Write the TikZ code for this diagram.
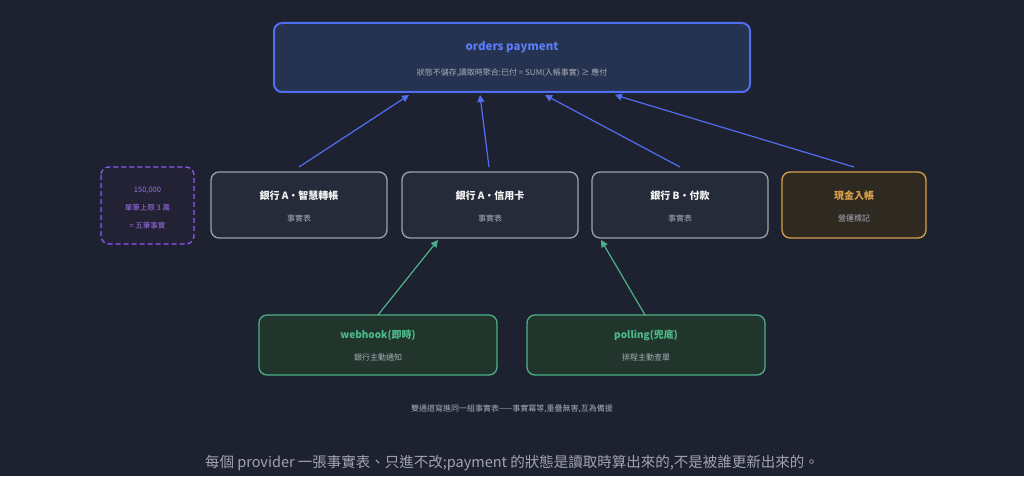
\documentclass[tikz,border=0pt]{standalone}
\usepackage{fontspec}
\setmainfont{Noto Sans CJK TC}
\usetikzlibrary{arrows.meta}
\definecolor{bg}{HTML}{1E2130}
\definecolor{bl}{HTML}{4F6EF0}
\definecolor{blt}{HTML}{5B7CF5}
\definecolor{blf}{HTML}{263350}
\definecolor{gr}{HTML}{4CB088}
\definecolor{grt}{HTML}{4CBB8A}
\definecolor{grf}{HTML}{22352C}
\definecolor{or}{HTML}{D9A04A}
\definecolor{orf}{HTML}{2E2A22}
\definecolor{pu}{HTML}{8B5CF6}
\definecolor{put}{HTML}{9A6EE8}
\definecolor{puf}{HTML}{232235}
\definecolor{gs}{HTML}{9CA3AF}
\definecolor{gf}{HTML}{262B3A}
\definecolor{sub}{HTML}{A8ADB8}
\definecolor{bot}{HTML}{A0A4AE}
\begin{document}
\begin{tikzpicture}[x=1pt,y=-1pt,
 box/.style={rounded corners=8pt,line width=1.3pt},
 ttl/.style={font=\fontsize{10}{12}\selectfont\bfseries},
 st/.style={font=\fontsize{8}{10}\selectfont,text=sub},
 pt/.style={font=\fontsize{7.5}{9}\selectfont,text=put},
 barr/.style={draw=bl,line width=1.2pt,-{Triangle[length=7pt,width=7pt]}},
 garr/.style={draw=gr,line width=1.2pt,-{Triangle[length=7pt,width=7pt]}}]
\fill[bg] (0,0) rectangle (1024,476);
\useasboundingbox (0,0) rectangle (1024,476);
\draw[box,draw=bl,line width=2pt,fill=blf] (274,23) rectangle (750,92);
\node[text=blt,font=\fontsize{11.5}{13}\selectfont\bfseries] (op) at (512,47) {orders payment};
\node[st] (ops) at (512,73) {狀態不儲存,讀取時聚合:已付 = SUM(入帳事實) ≥ 應付};
\foreach \n/\a/\t in {b1/211/銀行 A・智慧轉帳, b2/402/銀行 A・信用卡, b3/592/銀行 B・付款}{
 \draw[box,draw=gs,fill=gf] (\a,172) rectangle ++(176,66);
 \node[ttl,text=white!92!gray] (\n) at (\a+88,196) {\t};
 \node[st] at (\a+88,218) {事實表};
}
\draw[box,draw=or,fill=orf] (782,172) rectangle (926,238);
\node[ttl,text=or] (cash) at (854,196) {現金入帳};
\node[st] at (854,218) {營運標記};
\draw[box,draw=pu,dash pattern=on 5pt off 3pt,fill=puf] (101,167) rectangle (194,244);
\node[pt] (note) at (147.5,190) {150,000};
\node[pt] at (147.5,208) {單筆上限 3 萬};
\node[pt] at (147.5,226) {= 五筆事實};
\draw[box,draw=gr,fill=grf] (259,315) rectangle (497,375);
\node[ttl,text=grt] (wh) at (378,335) {webhook(即時)};
\node[st] at (378,357) {銀行主動通知};
\draw[box,draw=gr,fill=grf] (527,315) rectangle (765,375);
\node[ttl,text=grt] (pl) at (646,335) {polling(兜底)};
\node[st] at (646,357) {排程主動查單};
\coordinate (a1) at (299,167); \coordinate (t1) at (409,95);
\coordinate (a2) at (489,167); \coordinate (t2) at (480,95);
\coordinate (a3) at (680,167); \coordinate (t3) at (545,95);
\coordinate (a4) at (854,167); \coordinate (t4) at (615,95);
\foreach \i in {1,...,4}{\draw[barr] (a\i) -- (t\i);}
\coordinate (g1) at (378,315); \coordinate (h1) at (438,240);
\coordinate (g2) at (645,315); \coordinate (h2) at (601,240);
\draw[garr] (g1) -- (h1);
\draw[garr] (g2) -- (h2);
\node[st] at (512,409) {雙通道寫進同一組事實表——事實冪等,重疊無害,互為備援};
\node[font=\fontsize{14.5}{17}\selectfont,text=bot] at (512,463) {每個 provider 一張事實表、只進不改;payment 的狀態是讀取時算出來的,不是被誰更新出來的。};
\end{tikzpicture}
\end{document}
